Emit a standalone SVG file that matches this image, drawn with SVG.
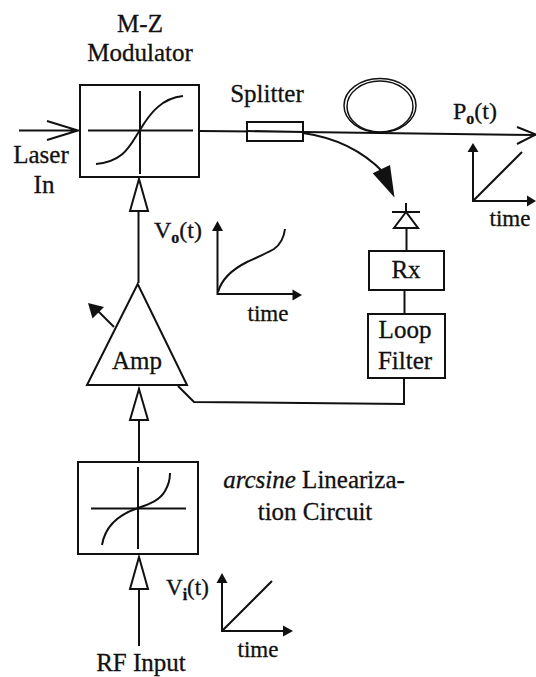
<svg xmlns="http://www.w3.org/2000/svg" width="536" height="677" viewBox="0 0 536 677">
<defs>
<style>
text{font-family:"Liberation Serif","Times New Roman",serif;font-size:23px;fill:#111;stroke:#111;stroke-width:0.3;text-anchor:middle}
.l{text-anchor:start}
.lab{font-size:25px}
.fn{font-size:24px}
.sub{font-size:16px;font-weight:bold}
.ln{fill:none;stroke:#111;stroke-width:2}
.thin{fill:none;stroke:#111;stroke-width:1.500}
.box{fill:#fff;stroke:#111;stroke-width:2}
.tri{fill:#fff;stroke:#111;stroke-width:2;stroke-linejoin:miter}
.hd{fill:#111;stroke:none}
</style>
</defs>
<rect width="536" height="677" fill="#fff"/>
<g id="connectors">
<path class="ln" d="M19 130.500H78M47 121L78 130.500L47 140"/>
<path class="ln" d="M199 131L303 132L536 135M517 127L536 134.500L517 144"/>
<path class="ln" d="M303 133Q352 140 383 172"/>
<polygon class="hd" points="372.700,173.300 390,165 394.500,197.500"/>
<path class="ln" d="M138.500 211V283"/>
<polygon class="tri" points="139,179 130,211 148,211"/>
<path class="ln" d="M139 388V462"/>
<polygon class="tri" points="139,389 130,420 148,420"/>
<path class="ln" d="M139 589V646"/>
<polygon class="tri" points="139,557 130,589 148,589"/>
<path class="ln" d="M114 327L97 310"/>
<polygon class="hd" points="88,303 104,307 92.500,318.500"/>
<path class="ln" d="M178 386L194 402L404 404V378"/>
<path class="ln" d="M406.500 228V251M404.500 290V314"/>
</g>
<g id="mz-modulator">
<rect class="box" x="80" y="85" width="119" height="92"/>
<path class="ln" d="M88 130.500H193M140 91V174"/>
<path class="ln" d="M96 164C125 161 130 145 140 130C150 113 162 98 183 96"/>
<text x="140" y="32" class="lab">M-Z</text>
<text x="140" y="61" class="lab">Modulator</text>
</g>
<g id="laser-label"><text x="41" y="163" class="lab">Laser</text><text x="44" y="193" class="lab">In</text></g>
<g id="splitter">
<rect class="box" x="247" y="122" width="56" height="19"/>
<path class="ln" d="M247 131L303 132"/>
<text x="267" y="102" class="lab">Splitter</text>
</g>
<g id="fiber-coil">
<ellipse class="thin" cx="380" cy="105.500" rx="36" ry="27"/>
<ellipse class="thin" cx="380" cy="106.500" rx="33" ry="25.500"/>
</g>
<g id="po-graph">
<text x="453" y="119" class="l fn">P<tspan class="sub" dy="5">o</tspan><tspan dy="-5">(t)</tspan></text>
<path class="ln" d="M473 151V201H528M473 201L522 152"/>
<polygon class="hd" points="473,143 467.500,152 478.500,152"/>
<polygon class="hd" points="536,201 527,195.500 527,206.500"/>
<text x="510" y="226">time</text>
</g>
<g id="photodiode">
<path class="ln" d="M392 212H420M406 203V212"/>
<polygon class="tri" points="406,212 394,228 418,228"/>
</g>
<g id="rx"><rect class="box" x="369" y="251" width="75" height="39"/><text x="406" y="278" class="lab">Rx</text></g>
<g id="loop-filter"><rect class="box" x="368" y="314" width="77" height="64"/><text x="405" y="338" class="lab">Loop</text><text x="405" y="369" class="lab">Filter</text></g>
<g id="amp">
<polygon class="tri" points="137.700,284 87,385 187,385"/>
<text x="137" y="369" class="lab">Amp</text>
</g>
<g id="vo-graph">
<text x="154" y="238" class="l fn">V<tspan class="sub" dy="5">o</tspan><tspan dy="-5">(t)</tspan></text>
<path class="ln" d="M217.500 229V294H294"/>
<polygon class="hd" points="217.500,221 212,231 223,231"/>
<polygon class="hd" points="302,295 292.500,289.500 292.500,300.500"/>
<path class="ln" d="M218 292C222 278 233 269 247 262C258 257 267 253 274 249C281 244 284 237 285 229"/>
<text x="268" y="321">time</text>
</g>
<g id="arcsine-circuit">
<rect class="box" x="78" y="462" width="120" height="92"/>
<path class="ln" d="M91 508.500H186M138 467V549"/>
<path class="ln" d="M102 545C105 527 117 515 138 508C150 504 160 500 165 491C168 486 170 480 170 473"/>
<text x="314" y="488" class="lab"><tspan font-style="italic">arcsine</tspan> Lineariza-</text>
<text x="315" y="520" class="lab">tion Circuit</text>
</g>
<g id="vi-graph">
<text x="166" y="595" class="l">V<tspan class="sub" dy="5">i</tspan><tspan dy="-5">(t)</tspan></text>
<path class="ln" d="M222 581V631H286M222 631L272 581"/>
<polygon class="hd" points="222,573 216.500,583 227.500,583"/>
<polygon class="hd" points="293,631 283,625.500 283,636.500"/>
<text x="258" y="657">time</text>
</g>
<g id="rf-input"><text x="141" y="671" class="lab">RF Input</text></g>
</svg>
